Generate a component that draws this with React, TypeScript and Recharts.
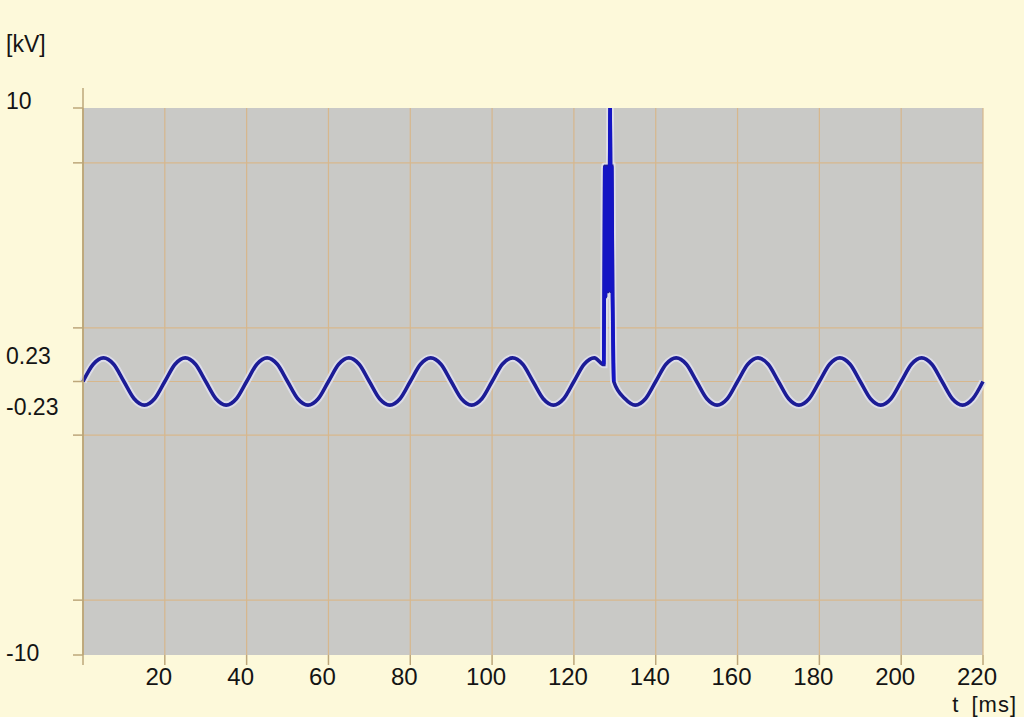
import { CartesianGrid, Line, LineChart, ReferenceLine, XAxis, YAxis } from "recharts";

// voltage trace, sampled every 2.5 ms before and after the spike
const waveStepMs = 2.5;
const waveBeforeKv = [
  0, 0.163, 0.23, 0.163, 0, -0.163, -0.23, -0.163,
  0, 0.163, 0.23, 0.163, 0, -0.163, -0.23, -0.163,
  0, 0.163, 0.23, 0.163, 0, -0.163, -0.23, -0.163,
  0, 0.163, 0.23, 0.163, 0, -0.163, -0.23, -0.163,
  0, 0.163, 0.23, 0.163, 0, -0.163, -0.23, -0.163,
  0, 0.163, 0.23, 0.163, 0, -0.163, -0.23, -0.163,
  0, 0.163, 0.23,
]; // t = 0 .. 125 ms
const spikeTimesMs = [
  127.3, 127.4, 127.55, 127.7, 127.85, 128.0, 128.15, 128.3, 128.45,
  128.6, 128.75, 128.85, 128.95, 129.1, 129.25, 129.45, 129.75,
];
const spikeKv = [0.16, 1.1, 5.6, 1.1, 5.6, 1.2, 5.6, 1.2, 5.6, 1.3, 5.6, 10, 5.6, 1.2, 5.6, 1.1, 0];
const waveAfterStartMs = 132.5;
const waveAfterKv = [
  -0.163, -0.23, -0.163, 0, 0.163, 0.23, 0.163, 0,
  -0.163, -0.23, -0.163, 0, 0.163, 0.23, 0.163, 0,
  -0.163, -0.23, -0.163, 0, 0.163, 0.23, 0.163, 0,
  -0.163, -0.23, -0.163, 0, 0.163, 0.23, 0.163, 0,
  -0.163, -0.23, -0.163, 0,
]; // t = 132.5 .. 220 ms

const xTicks = [0, 20, 40, 60, 80, 100, 120, 140, 160, 180, 200, 220];
const yGridValues = [-10, -5.8, -0.6, 0, 0.6, 5.8, 10];
const yLabelValues = [-10, -0.23, 0.23, 10];

const spikeData = spikeTimesMs.map((t, i) => ({ t, kv: spikeKv[i] }));
const data = [
  ...waveBeforeKv.map((kv, i) => ({ t: i * waveStepMs, kv })),
  ...spikeData,
  ...waveAfterKv.map((kv, i) => ({ t: waveAfterStartMs + i * waveStepMs, kv })),
];

const W = 1024;
const H = 717;
const PLOT_LEFT = 83;
const FONT = '"Liberation Sans", Arial, Helvetica, sans-serif';
const BG = "#fdf9da";
const PLOT_BG = "#c9c9c6";
const GRID = "#d7b78c";
const AXIS = "#bda77a";
const LINE = "#1c1c96";
const SPIKE = "#1414c4";
const TEXT = "#141414";

const yTicks = Array.from(new Set([...yGridValues, ...yLabelValues])).sort((a, b) => a - b);

function YTick(props: any) {
  const { y, payload } = props;
  const v = payload.value;
  const nudge = v === 10 ? -7 : v === -10 ? -2 : v > 0 ? -2 : v < 0 ? 2 : 0;
  return (
    <g>
      {yGridValues.includes(v) && (
        <line x1={PLOT_LEFT - 10} x2={PLOT_LEFT} y1={y} y2={y} stroke={AXIS} strokeWidth={1.5} />
      )}
      {yLabelValues.includes(v) && (
        <text x={6} y={y + nudge} dy="0.36em" textAnchor="start" fontSize={23} fontFamily={FONT} fill={TEXT}>
          {String(v)}
        </text>
      )}
    </g>
  );
}

function XTick(props: any) {
  const { x, y, payload } = props;
  if (payload.value === 0) return <g />;
  return (
    <text x={x - 6} y={y} dy={18} textAnchor="middle" fontSize={24} fontFamily={FONT} fill={TEXT}>
      {payload.value}
    </text>
  );
}

export default function App() {
  return (
    <div style={{ position: "fixed", left: 0, top: 0, width: W, height: H, background: BG, fontFamily: FONT }}>
      <LineChart width={W} height={H} data={data} margin={{ top: 108, right: 41, left: 0, bottom: 0 }}>
        <CartesianGrid horizontal={false} stroke={GRID} strokeWidth={1.2} fill={PLOT_BG} />
        <XAxis
          dataKey="t"
          type="number"
          domain={[0, 220]}
          ticks={xTicks}
          interval={0}
          height={62}
          axisLine={false}
          tickLine={{ stroke: AXIS, strokeWidth: 1.5 }}
          tickSize={10}
          tick={<XTick />}
        />
        <YAxis
          type="number"
          scale="symlog"
          domain={[-10, 10]}
          allowDataOverflow
          ticks={yTicks}
          interval={0}
          width={PLOT_LEFT}
          axisLine={{ stroke: AXIS, strokeWidth: 1.5 }}
          tickLine={false}
          tickSize={0}
          tick={<YTick />}
        />
        {yGridValues
          .filter((v) => Math.abs(v) < 10)
          .map((v) => (
            <ReferenceLine key={v} y={v} stroke={GRID} strokeWidth={1.2} />
          ))}
        <ReferenceLine
          segment={[{ x: 0, y: -10 }, { x: 0, y: 12.1 }]}
          stroke={AXIS}
          strokeWidth={1.5}
          ifOverflow="visible"
        />
        <Line
          dataKey="kv"
          type="monotone"
          stroke="#e2e2f0"
          strokeWidth={7.5}
          strokeOpacity={0.8}
          dot={false}
          activeDot={false}
          isAnimationActive={false}
        />
        <Line
          dataKey="kv"
          type="monotone"
          stroke={LINE}
          strokeWidth={3.6}
          dot={false}
          activeDot={false}
          isAnimationActive={false}
        />
        <Line
          data={spikeData}
          dataKey="kv"
          type="linear"
          stroke={SPIKE}
          strokeWidth={3.6}
          dot={false}
          activeDot={false}
          isAnimationActive={false}
        />
      </LineChart>
      <div style={{ position: "absolute", left: 6, top: 31, fontSize: 23, lineHeight: "26px", color: TEXT }}>[kV]</div>
      <div
        style={{
          position: "absolute",
          right: 7,
          top: 694,
          fontSize: 22,
          lineHeight: "22px",
          color: TEXT,
          wordSpacing: 5,
          letterSpacing: 1,
        }}
      >
        t [ms]
      </div>
    </div>
  );
}
